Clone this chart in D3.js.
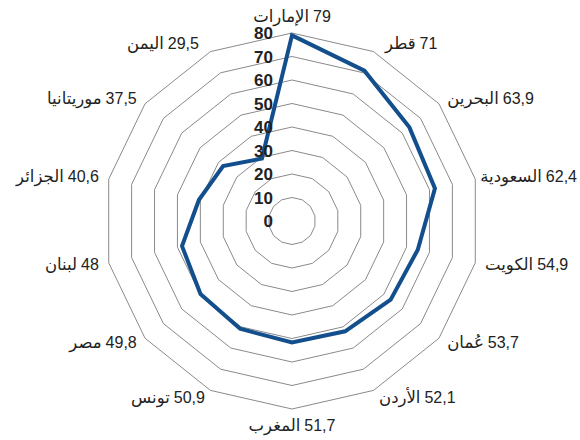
<!DOCTYPE html>
<html>
<head>
<meta charset="utf-8">
<script src="https://cdn.jsdelivr.net/npm/d3@7"></script>
<style>
  body { margin: 0; background: #fff; }
  svg { display: block; }
  .grid { fill: none; stroke: #8a8a8a; stroke-width: 1; }
  .tick { font: bold 17px "Liberation Sans", Arial, sans-serif; fill: #222; }
  .lab { font: 16px "Liberation Sans", "DejaVu Sans", sans-serif; fill: #222; }
  .lab.ar { font-size: 16.5px; }
</style>
</head>
<body>
<svg id="chart" width="580" height="440"></svg>
<script>
var countries = ['الإمارات', 'قطر', 'البحرين', 'السعودية', 'الكويت', 'عُمان', 'الأردن',
                 'المغرب', 'تونس', 'مصر', 'لبنان', 'الجزائر', 'موريتانيا', 'اليمن'];
var values = [79, 71, 63.9, 62.4, 54.9, 53.7, 52.1, 51.7, 50.9, 49.8, 48, 40.6, 37.5, 29.5];
var levels = [0, 10, 20, 30, 40, 50, 60, 70, 80];

var svg = d3.select('#chart');
var cx = 292, cy = 221, R = 188;

var r = d3.scaleLinear().domain([0, 80]).range([0, R]);
var ang = d3.scaleLinear().domain([0, countries.length]).range([0, 2 * Math.PI]);

function pt(i, v) {
    var a = ang(i);
    return [cx + r(v) * Math.sin(a), cy - r(v) * Math.cos(a)];
}

var line = d3.line().curve(d3.curveLinearClosed);

// grid rings
svg.selectAll('.grid')
    .data(levels.filter(function(d){ return d > 0; }))
    .enter()
    .append('path')
        .attr('class', 'grid')
        .attr('d', function(lv){
            return line(countries.map(function(c, i){ return pt(i, lv); }));
        });

// data polygon
svg.append('path')
    .attr('d', line(values.map(function(v, i){ return pt(i, v); })))
    .attr('fill', 'none')
    .attr('stroke', '#134f8c')
    .attr('stroke-width', 4)
    .attr('stroke-linejoin', 'miter');

// tick labels along the top axis
svg.selectAll('.tick')
    .data(levels)
    .enter()
    .append('text')
        .attr('class', 'tick')
        .attr('x', cx - 19)
        .attr('y', function(d){ return cy - r(d); })
        .attr('dy', '0.36em')
        .attr('text-anchor', 'end')
        .text(function(d){ return d; });

// category labels: arabic name on the left, number on the right
var fmt = function(v){ return String(v).replace('.', ','); };

countries.forEach(function(c, i){
    var a = ang(i);
    var s = Math.sin(a), co = Math.cos(a);
    var g = svg.append('g');
    var name = g.append('text').attr('class', 'lab ar').text(c);
    var num = g.append('text').attr('class', 'lab').text(fmt(values[i]));
    var wn = name.node().getComputedTextLength();
    var wv = num.node().getComputedTextLength();
    var gap = 4, w = wn + gap + wv;
    var x, y;
    if (Math.abs(s) < 0.01) {
        x = cx - w / 2;
        y = co > 0 ? cy - R - 16 : cy + R + 17;
        y += 5;
    } else {
        var lx = cx + (R + 8) * s;
        var push = co > 0.8 ? 6 : 0;
        y = cy - (R + 8) * co + 5;
        x = s > 0 ? lx + 2 + push : lx - 2 - push - w;
    }
    x = Math.max(3, Math.min(x, 577 - w));
    name.attr('x', x).attr('y', y);
    num.attr('x', x + wn + gap).attr('y', y);
});
</script>
</body>
</html>
